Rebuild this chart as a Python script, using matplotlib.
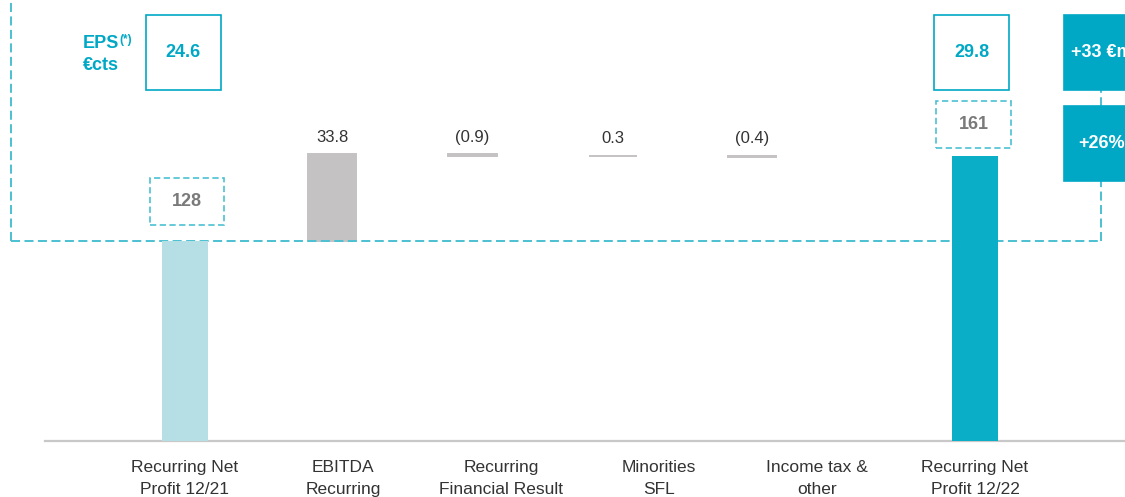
import matplotlib
matplotlib.use("Agg")
import matplotlib.pyplot as plt
from matplotlib.patches import Rectangle

plt.rcParams["font.family"] = ["Liberation Sans", "DejaVu Sans"]
plt.rcParams["lines.scale_dashes"] = False

# waterfall data (EUR m)
categories = ["Recurring Net\nProfit 12/21", "EBITDA\nRecurring", "Recurring\nFinancial Result",
              "Minorities\nSFL", "Income tax &\nother", "Recurring Net\nProfit 12/22"]
start_total = 128
deltas = [33.8, -0.9, 0.3, -0.4]
end_total = 161

# EPS per share (EUR cts) and growth call-outs
eps_start = 24.6
eps_end = 29.8
growth_abs = "+33 €m"
growth_pct = "+26%"

TEAL = "#0aaec6"
TEAL_DARK = "#00a8c6"
DASH = "#4cc0d2"
LIGHT = "#b5dee5"
GREY_BAR = "#c4c2c3"
TXT = "#333333"

fig = plt.figure(figsize=(11.25, 4.97), dpi=100)
ax = fig.add_axes([0.04, 56 / 497, 0.96, 441 / 497])

bar_x = [0, 0.93, 1.82, 2.71, 3.59, 5.0]
tick_x = range(len(categories))

# totals
ax.bar(bar_x[0], start_total, width=0.29, color=LIGHT, zorder=3)
ax.bar(bar_x[-1], end_total, width=0.29, color=TEAL, zorder=3)

# deltas (thin edge keeps the tiny moves visible)
level = start_total
for x, d in zip(bar_x[1:-1], deltas):
    ax.bar(x, d, bottom=level, width=0.305, color=GREY_BAR, edgecolor=GREY_BAR,
           linewidth=1.4, zorder=2)
    top = max(level, level + d)
    label = f"({abs(d):.1f})" if d < 0 else f"{d:.1f}"
    ax.annotate(label, (x, top), xytext=(0, 9), textcoords="offset points",
                ha="center", va="baseline", fontsize=12, color=TXT)
    level += d

# dashed bracket at the 12/21 level
bracket_x = 5.8
dash_style = dict(color=DASH, lw=1.4, linestyle=(0, (6.5, 3.2)), clip_on=False, zorder=2.5)
ax.plot([-1.104, bracket_x], [start_total, start_total], **dash_style)
ax.plot([-1.104, -1.104], [start_total, 230], **dash_style)
ax.plot([bracket_x, bracket_x], [start_total, 186.7], **dash_style)


def box(xc, y0, w, h, text, face="none", edge=TEAL_DARK, ls="-", tcolor=TEAL_DARK):
    ax.add_patch(Rectangle((xc - w / 2, y0), w, h, facecolor=face, edgecolor=edge,
                           linewidth=1.2, linestyle=ls, clip_on=False, zorder=4))
    ax.text(xc, y0 + h / 2, text, ha="center", va="center", fontsize=13,
            fontweight="bold", color=tcolor, zorder=5, clip_on=False)


box(-0.01, 186.7, 0.475, 29.1, f"{eps_start:.1f}")
box(4.98, 186.7, 0.475, 29.1, f"{eps_end:.1f}")
box(0.012, 134.2, 0.47, 18.3, f"{start_total}", ls=(0, (4.5, 2.5)), edge=DASH, tcolor="#7a7a7a")
box(4.99, 164.1, 0.47, 18.3, f"{end_total}", ls=(0, (4.5, 2.5)), edge=DASH, tcolor="#7a7a7a")
box(bracket_x, 186.7, 0.475, 29.1, growth_abs, face=TEAL_DARK, edge=TEAL_DARK, tcolor="white")
box(bracket_x, 151.3, 0.475, 29.1, growth_pct, face=TEAL_DARK, edge=TEAL_DARK, tcolor="white")

ax.text(-0.646, 203.0, "EPS", fontsize=13, fontweight="bold", color=TEAL_DARK, va="baseline")
ax.text(-0.418, 204.8, "(*)", fontsize=8.5, fontweight="bold", color=TEAL_DARK, va="baseline")
ax.text(-0.646, 194.4, "€cts", fontsize=13, fontweight="bold", color=TEAL_DARK, va="baseline")

ax.set_xlim(-0.886, 5.949)
ax.set_ylim(50.3, 221.63)
ax.set_xticks(list(tick_x))
ax.set_xticklabels(categories, fontsize=12.5, color=TXT, linespacing=1.6)
ax.tick_params(axis="x", length=0, pad=13.5)
ax.set_yticks([])
for side in ["top", "left", "right"]:
    ax.spines[side].set_visible(False)
ax.spines["bottom"].set_color("#c8c8c8")
ax.spines["bottom"].set_linewidth(1.6)
ax.patch.set_alpha(0)

fig.savefig("out.png", dpi=100)
